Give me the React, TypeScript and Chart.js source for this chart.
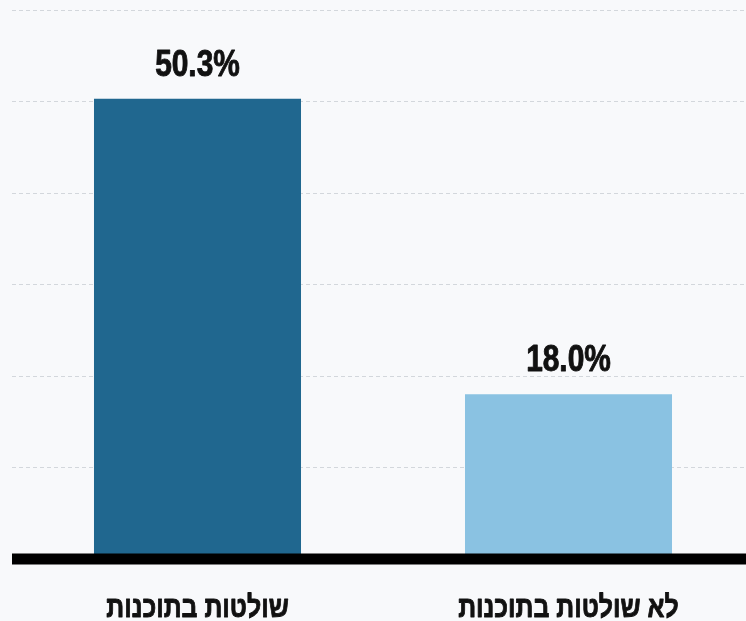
import React, { useEffect, useRef } from "react";
import { Chart, registerables } from "chart.js";

Chart.register(...registerables);

const categories = ["שולטות בתוכנות", "לא שולטות בתוכנות"];
const values = [50.3, 18.0];
const barColors = ["#20678f", "#8ac2e2"];
const yTicks = [0, 10, 20, 30, 40, 50, 60];

const FONT = "'Liberation Sans Narrow', 'Liberation Sans', Arial, sans-serif";
const SQUEEZE = 0.83;

function drawNarrowText(ctx: any, text: string, x: number, y: number) {
  ctx.save();
  ctx.translate(x, y);
  ctx.scale(SQUEEZE, 1);
  ctx.fillText(text, 0, 0);
  ctx.lineWidth = 0.9;
  ctx.strokeText(text, 0, 0);
  ctx.restore();
}

const textPlugin = {
  id: "textPlugin",
  afterDatasetsDraw(chart: any) {
    const ctx = chart.ctx;
    const meta = chart.getDatasetMeta(0);
    const { left, right, bottom } = chart.chartArea;
    ctx.save();
    // thick baseline drawn over bars
    const y0 = chart.scales.y.getPixelForValue(0);
    ctx.fillStyle = "#000000";
    ctx.fillRect(left, y0 - 5.5, right - left, 11);

    ctx.fillStyle = "#111111";
    ctx.strokeStyle = "#111111";
    ctx.lineJoin = "round";
    ctx.textAlign = "center";
    ctx.textBaseline = "alphabetic";
    ctx.font = `bold 36px ${FONT}`;
    meta.data.forEach((bar: any, i: number) => {
      drawNarrowText(ctx, values[i].toFixed(1) + "%", bar.x, bar.y - 23);
    });
    ctx.font = `bold 30px ${FONT}`;
    meta.data.forEach((bar: any, i: number) => {
      drawNarrowText(ctx, categories[i], bar.x, bottom + 58);
    });
    ctx.restore();
  },
};

export default function App() {
  const ref = useRef<HTMLCanvasElement | null>(null);
  useEffect(() => {
    if (!ref.current) return;
    const chart = new Chart(ref.current, {
      type: "bar",
      data: {
        labels: categories,
        datasets: [
          {
            data: values,
            backgroundColor: barColors,
            borderWidth: 0,
            barPercentage: 0.558,
            categoryPercentage: 1,
          },
        ],
      },
      options: {
        animation: false,
        responsive: true,
        maintainAspectRatio: false,
        layout: { padding: { left: 12, right: 0, top: 10, bottom: 54 } },
        plugins: { legend: { display: false }, tooltip: { enabled: false } },
        scales: {
          x: {
            grid: { display: false },
            border: { display: false },
            ticks: { display: false },
          },
          y: {
            min: 0,
            max: 60,
            afterBuildTicks: (s: any) => {
              s.ticks = yTicks.map((v) => ({ value: v }));
            },
            ticks: { display: false },
            border: { display: false, dash: [4, 3] },
            grid: { color: "#d3d7dc", lineWidth: 1, drawTicks: false },
          },
        },
      },
      plugins: [textPlugin],
    });
    return () => chart.destroy();
  }, []);
  return (
    <div
      style={{
        position: "fixed",
        left: 0,
        top: 0,
        width: 746,
        height: 621,
        overflow: "hidden",
        background: "#f8f9fb",
      }}
    >
      <div style={{ position: "relative", width: 754, height: 621 }}>
        <canvas ref={ref} />
      </div>
    </div>
  );
}
